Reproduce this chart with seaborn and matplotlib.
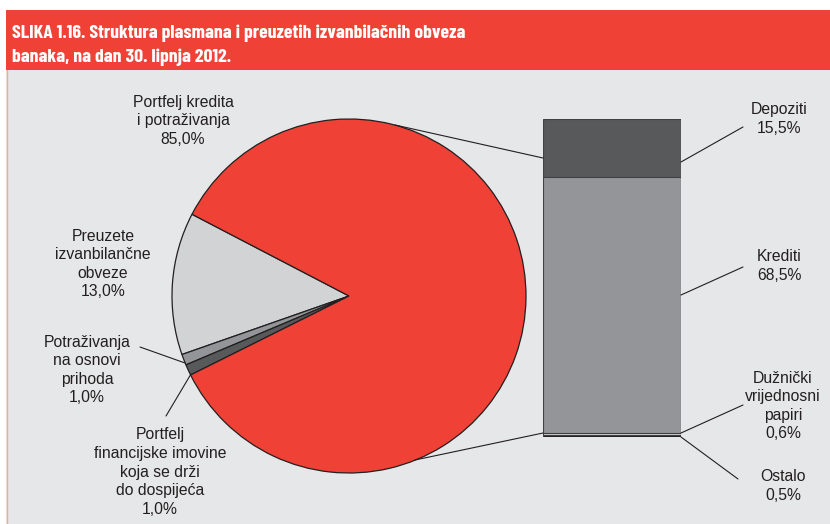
import numpy as np
import pandas as pd
import matplotlib
matplotlib.use('Agg')
import matplotlib.pyplot as plt
from matplotlib.patches import Rectangle
import seaborn as sns

# Podaci - struktura plasmana (krug) i raspodjela portfelja kredita (stupac)
pie_labels = ['Preuzete\nizvanbilančne\nobveze', 'Potraživanja\nna osnovi\nprihoda',
              'Portfelj\nfinancijske imovine\nkoja se drži\ndo dospijeća',
              'Portfelj kredita\ni potraživanja']
pie_values = [13.0, 1.0, 1.0, 85.0]
pie_colors = ['#d1d3d4', '#939598', '#58595b', '#ef4136']

bar_labels = ['Ostalo', 'Dužnički\nvrijednosni\npapiri', 'Krediti', 'Depoziti']
bar_values = [0.5, 0.6, 68.5, 15.5]
bar_colors = ['#231f20', '#d1d3d4', '#939598', '#58595b']

title_lines = ['SLIKA 1.16. Struktura plasmana i preuzetih izvanbilačnih obveza',
               'banaka, na dan 30. lipnja 2012.']

sns.set_theme(style='white')
plt.rcParams['font.family'] = ['Liberation Sans', 'DejaVu Sans']

W, H = 830, 524
fig = plt.figure(figsize=(W / 100, H / 100), dpi=100)


def px_box(l, t, r, b):
    return [l / W, 1 - b / H, (r - l) / W, (b - t) / H]


def fmt(v):
    return f'{v:.1f}'.replace('.', ',') + '%'


# pozadina i naslovna traka
bg = fig.add_axes([0, 0, 1, 1])
bg.set_xlim(0, W)
bg.set_ylim(H, 0)
bg.axis('off')
bg.add_patch(Rectangle((6, 70), W - 6, H - 70, color='#e6e7e8', lw=0))
bg.add_patch(Rectangle((6, 10), W - 6, 60, color='#ef4136', lw=0))
bg.plot([6.5, 6.5], [70, H], color='#f4a6a0', lw=1)
for i, line in enumerate(title_lines):
    bg.text(12, 38 + 24 * i, line, color='white', fontsize=14.2, fontweight='bold',
            family=['Barlow Condensed', 'Roboto Condensed', 'DejaVu Sans'],
            va='baseline', ha='left')

# krug
ax_pie = fig.add_axes(px_box(159, 106, 539, 486))
ax_pie.pie(pie_values, colors=pie_colors, startangle=152.5, counterclock=True,
           wedgeprops=dict(edgecolor='#231f20', linewidth=0.9))
lim = 190 / 177
ax_pie.set_xlim(-lim, lim)
ax_pie.set_ylim(-lim, lim)
ax_pie.axis('off')

# složeni stupac
ax_bar = fig.add_axes(px_box(543, 119, 681, 437))
cum = np.cumsum(bar_values)
for i in reversed(range(len(bar_values))):
    sns.barplot(x=['x'], y=[cum[i]], color=bar_colors[i], width=1, saturation=1,
                edgecolor='#414042', linewidth=0.8, ax=ax_bar)
ax_bar.set_xlim(-0.5, 0.5)
ax_bar.set_ylim(0, cum[-1])
ax_bar.axis('off')

# linije i oznake
fg = fig.add_axes([0, 0, 1, 1], zorder=5)
fg.patch.set_alpha(0)
fg.set_xlim(0, W)
fg.set_ylim(H, 0)
fg.axis('off')

lines = [((395, 125), (543, 158)), ((415, 460), (543, 433)),
         ((140, 347), (185, 363)), ((166, 416), (191, 374)),
         ((681, 162), (743, 127)), ((681, 295), (743, 267)),
         ((681, 433), (743, 405)), ((681, 437), (738, 479))]
for (x0, y0), (x1, y1) in lines:
    fg.plot([x0, x1], [y0, y1], color='#231f20', lw=0.8)

pie_pos = [(103, 264), (87, 370), (160, 472), (183, 121)]
for lab, v, (x, y) in zip(pie_labels, pie_values, pie_pos):
    fg.text(x, y, lab + '\n' + fmt(v), ha='center', va='center', fontsize=11.3,
            color='#231f20', linespacing=1.3)

bar_pos = [(783, 486), (783, 406), (779, 266), (779, 119)]
for lab, v, (x, y) in zip(bar_labels, bar_values, bar_pos):
    fg.text(x, y, lab + '\n' + fmt(v), ha='center', va='center', fontsize=11.3,
            color='#231f20', linespacing=1.3)

fig.savefig('out.png', dpi=100)
